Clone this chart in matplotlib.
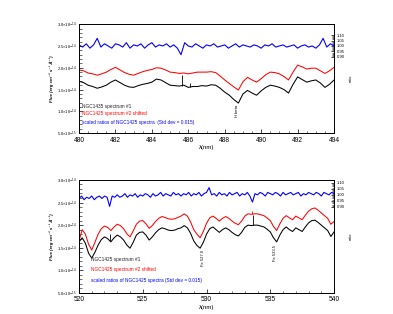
import numpy as np
import matplotlib
matplotlib.use('Agg')
import matplotlib.pyplot as plt
from matplotlib.ticker import MultipleLocator, FixedLocator, FixedFormatter

plt.rcParams['font.family'] = ['Liberation Sans', 'DejaVu Sans']

# flux values in units of 1e-14 erg cm-2 s-1 A-1, sampled every 0.25 nm
top_black = [1.69, 1.66, 1.60, 1.57, 1.53, 1.56, 1.60, 1.67, 1.72, 1.66, 1.60, 1.56,
             1.55, 1.59, 1.62, 1.64, 1.67, 1.74, 1.72, 1.66, 1.60, 1.59, 1.58, 1.60,
             1.55, 1.57, 1.57, 1.59, 1.58, 1.61, 1.60, 1.53, 1.44, 1.37, 1.27, 1.19,
             1.40, 1.48, 1.42, 1.37, 1.47, 1.55, 1.60, 1.58, 1.55, 1.50, 1.42, 1.62,
             1.79, 1.73, 1.67, 1.70, 1.72, 1.65, 1.55, 1.62, 1.72]
top_red = [1.95, 1.93, 1.88, 1.86, 1.83, 1.86, 1.90, 1.96, 2.01, 1.95, 1.89, 1.85,
           1.83, 1.87, 1.91, 1.94, 1.96, 2.00, 1.99, 1.95, 1.90, 1.89, 1.87, 1.88,
           1.86, 1.88, 1.90, 1.90, 1.90, 1.91, 1.89, 1.81, 1.72, 1.64, 1.56, 1.49,
           1.68, 1.78, 1.72, 1.67, 1.75, 1.84, 1.90, 1.89, 1.86, 1.80, 1.72, 1.90,
           2.06, 2.02, 1.97, 1.99, 1.99, 1.93, 1.87, 1.93, 2.01]
# ratios every 0.2 nm
top_ratio = [1.01, 0.99, 1.02, 0.98, 1.01, 1.07, 0.99, 1.02, 1.00, 0.98, 1.02, 1.01,
             0.99, 1.03, 0.98, 1.01, 1.00, 1.02, 0.98, 1.01, 1.03, 0.99, 1.01, 1.00,
             1.02, 0.99, 1.01, 0.98, 0.92, 1.03, 1.00, 0.99, 1.02, 1.00, 0.98, 1.01,
             1.00, 1.02, 0.99, 1.00, 1.01, 0.98, 1.00, 1.02, 0.99, 1.01, 1.00, 0.99,
             1.01, 1.00, 0.98, 1.01, 1.00, 1.02, 0.99, 1.00, 1.01, 0.99, 1.00, 1.01,
             0.98, 1.00, 1.01, 0.99, 1.00, 0.98, 1.01, 1.07, 0.99, 1.02, 1.00]
top_spikes = {'wl': [485.65, 486.1], 'lo': [1.58, 1.56], 'hi': [1.83, 1.66]}

bot_black = [1.63, 1.72, 1.60, 1.38, 1.27, 1.40, 1.56, 1.68, 1.74, 1.70, 1.63, 1.72,
             1.78, 1.74, 1.67, 1.56, 1.49, 1.62, 1.78, 1.84, 1.85, 1.78, 1.67, 1.74,
             1.83, 1.90, 1.94, 1.92, 1.89, 1.88, 1.89, 1.92, 1.94, 1.99, 1.94, 1.82,
             1.65, 1.55, 1.49, 1.62, 1.80, 1.92, 1.96, 1.90, 1.84, 1.90, 1.94, 1.90,
             1.84, 1.79, 1.76, 1.84, 1.95, 2.00, 1.99, 2.00, 2.00, 1.98, 1.96, 1.91,
             1.85, 1.72, 1.63, 1.78, 1.90, 1.96, 1.90, 1.86, 1.94, 1.90, 1.86, 1.96,
             2.05, 2.10, 2.11, 2.06, 2.00, 1.94, 1.88, 1.75, 1.85]
bot_red = [1.65, 1.90, 1.80, 1.58, 1.45, 1.62, 1.80, 1.92, 1.98, 1.95, 1.88, 1.96,
           2.02, 1.99, 1.92, 1.81, 1.74, 1.87, 2.02, 2.09, 2.10, 2.03, 1.93, 1.99,
           2.08, 2.15, 2.19, 2.17, 2.14, 2.13, 2.14, 2.17, 2.20, 2.25, 2.20, 2.07,
           1.90, 1.80, 1.72, 1.86, 2.04, 2.16, 2.20, 2.15, 2.09, 2.15, 2.19, 2.15,
           2.09, 2.04, 2.01, 2.09, 2.20, 2.25, 2.24, 2.25, 2.25, 2.23, 2.21, 2.16,
           2.10, 1.97, 1.88, 2.03, 2.15, 2.21, 2.16, 2.12, 2.20, 2.16, 2.12, 2.22,
           2.31, 2.36, 2.38, 2.33, 2.27, 2.21, 2.15, 2.02, 2.08]
bot_ratio = [0.97, 0.99, 0.96, 0.98, 0.97, 0.99, 0.96, 0.98, 0.99, 0.97, 0.99, 0.98,
             0.905, 0.99, 0.98, 1.00, 0.98, 0.99, 1.01, 0.98, 1.00, 0.99, 1.01, 0.98,
             1.00, 0.99, 1.01, 1.00, 0.98, 1.01, 0.99, 1.00, 1.02, 0.99, 1.01, 1.00,
             0.99, 1.02, 1.00, 1.01, 0.99, 1.01, 1.00, 1.02, 0.99, 1.01, 1.00, 1.02,
             0.99, 1.01, 1.02, 1.06, 1.00, 1.01, 0.99, 1.02, 1.00, 1.01, 0.99, 1.02,
             1.00, 1.01, 1.02, 0.99, 1.01, 1.00, 1.02, 0.99, 0.94, 1.01, 1.00, 1.02,
             1.01, 0.99, 1.02, 1.01, 1.00, 1.02, 1.01, 0.99, 1.02, 1.00, 1.01, 1.02,
             1.00, 1.01, 1.02, 0.99, 1.01, 1.00, 1.02, 1.01, 1.00, 1.02, 1.01, 0.99,
             1.02, 1.01, 1.00, 1.02, 1.01]
bot_spikes = {'wl': [522.4, 533.65], 'lo': [1.66, 2.00], 'hi': [1.80, 2.22]}
bot_red_spikes = {'wl': [533.6], 'lo': [2.25], 'hi': [2.32]}

flux_ticks = [0.5, 1.0, 1.5, 2.0, 2.5, 3.0]
flux_labels = ['5.0×10$^{-15}$', '1.0×10$^{-14}$', '1.5×10$^{-14}$',
               '2.0×10$^{-14}$', '2.5×10$^{-14}$', '3.0×10$^{-14}$']
ratio_ticks = [0.90, 0.95, 1.00, 1.05, 1.10]


def draw_panel(rect, wl0, wl1, black, red, ratio, spikes, ratio_scale,
               xmajor, xminor, legend_labels, legend_x, lines, red_spikes=None):
    ax = fig.add_axes(rect)
    wl_spec = np.linspace(wl0, wl1, len(black))
    wl_ratio = np.linspace(wl0, wl1, len(ratio))
    ax.plot(wl_spec, black, color='black', lw=0.75)
    ax.plot(wl_spec, red, color='red', lw=0.75)
    ax.vlines(spikes['wl'], spikes['lo'], spikes['hi'], color='black', lw=0.6)
    if red_spikes:
        ax.vlines(red_spikes['wl'], red_spikes['lo'], red_spikes['hi'], color='red', lw=0.6)
    ax.set_xlim(wl0, wl1)
    ax.set_ylim(0.5, 3.0)
    ax.xaxis.set_major_locator(MultipleLocator(xmajor))
    ax.xaxis.set_minor_locator(MultipleLocator(xminor))
    ax.yaxis.set_major_locator(FixedLocator(flux_ticks))
    ax.yaxis.set_major_formatter(FixedFormatter(flux_labels))
    ax.yaxis.set_minor_locator(MultipleLocator(0.1))
    ax.tick_params(axis='x', which='both', direction='in', labelsize=4.8, pad=2.5)
    ax.tick_params(axis='y', which='both', direction='in', labelsize=2.9, pad=1.5)
    ax.tick_params(which='major', length=3, width=0.5)
    ax.tick_params(which='minor', length=1.8, width=0.4)
    for s in ax.spines.values():
        s.set_linewidth(0.6)
    ax.set_xlabel('λ(nm)', fontsize=4.3, labelpad=1)
    ax.set_ylabel('Flux (erg cm⁻² s⁻¹ Å⁻¹)', fontsize=3.2, fontweight='bold',
                  style='italic', labelpad=2)

    ax2 = ax.twinx()
    ax2.plot(wl_ratio, ratio, color='blue', lw=0.8)
    ax2.set_ylim(0.5 / ratio_scale, 3.0 / ratio_scale)
    ax2.set_yticks(ratio_ticks)
    ax2.set_yticklabels(['%.2f' % t for t in ratio_ticks])
    ax2.set_yticks(np.arange(0.90, 1.105, 0.01), minor=True)
    ax2.tick_params(axis='y', which='both', direction='in', labelsize=3.0, pad=2)
    ax2.tick_params(which='major', length=2.5, width=0.5)
    ax2.tick_params(which='minor', length=1.5, width=0.4)
    ax2.set_ylabel('ratio', fontsize=2.8, labelpad=2.5)
    for s in ax2.spines.values():
        s.set_linewidth(0.6)

    colors = ['#222222', 'red', 'blue']
    for lab, c, yy in zip(legend_labels, colors, lines):
        ax.text(legend_x, yy, lab, color=c, fontsize=3.4, va='center', ha='left')
    return ax


fig = plt.figure(figsize=(3.93, 3.14), dpi=100)

ax_top = draw_panel([0.201, 0.576, 0.649, 0.347], 480, 494, top_black, top_red,
                    top_ratio, top_spikes, 2.5, 2, 0.5,
                    ['NGC1435 spectrum #1', 'NGC1425 spectrum #2 shifted',
                     'scaled ratios of NGC1425 spectra  (Std dev = 0.015)'],
                    480.15, [1.12, 0.96, 0.75])
ax_top.text(488.7, 1.14, 'H beta', rotation=90, fontsize=3.0, ha='center', va='top')

ax_bot = draw_panel([0.201, 0.067, 0.649, 0.360], 520, 540, bot_black, bot_red,
                    bot_ratio, bot_spikes, 2.67, 5, 1,
                    ['NGC1425 spectrum #1', 'NGC1425 spectrum #2 shifted',
                     'scaled ratios of NGC1425 spectra (Std dev = 0.015)'],
                    520.95, [1.25, 1.01, 0.77], red_spikes=bot_red_spikes)
ax_bot.text(529.7, 1.46, 'Fe 527.0', rotation=90, fontsize=3.0, ha='center', va='top')
ax_bot.text(535.4, 1.55, 'Fe 533.5', rotation=90, fontsize=3.0, ha='center', va='top')

fig.savefig('out.png', dpi=100)
